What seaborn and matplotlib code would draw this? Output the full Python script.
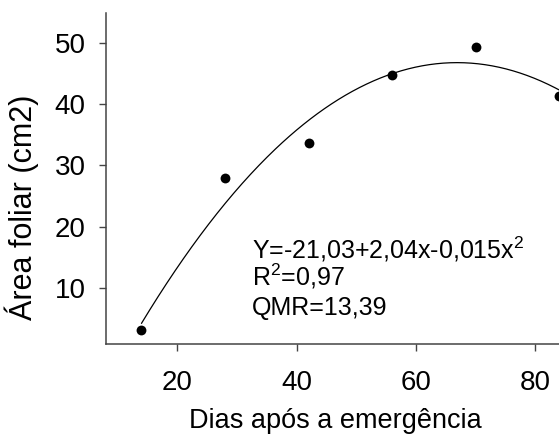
import numpy as np
import pandas as pd
import matplotlib
matplotlib.use("Agg")
import matplotlib.pyplot as plt
import seaborn as sns

# Data
dias = [14, 28, 42, 56, 70, 84]
area = [3.1, 27.9, 33.6, 44.8, 49.4, 41.4]
# fitted quadratic (as drawn): c, b, a
coef = [-21.4, 2.04, -0.01525]
xticks = [20, 40, 60, 80]
yticks = [10, 20, 30, 40, 50]
eq_lines = [r"Y=-21,03+2,04x-0,015x$^2$", r"R$^2$=0,97", "QMR=13,39"]

sns.set_style("ticks")
plt.rcParams['font.family'] = ['Liberation Sans', 'DejaVu Sans']
plt.rcParams['mathtext.fontset'] = 'custom'
plt.rcParams['mathtext.rm'] = 'Liberation Sans'
plt.rcParams['mathtext.it'] = 'Liberation Sans'
plt.rcParams['mathtext.default'] = 'regular'
plt.rcParams['text.color'] = 'black'
plt.rcParams['axes.labelcolor'] = 'black'
plt.rcParams['xtick.labelcolor'] = 'black'
plt.rcParams['ytick.labelcolor'] = 'black'

fig = plt.figure(figsize=(5.59, 4.36), dpi=100)
ax = fig.add_axes([0.189, 0.211, 0.822, 0.760])

df = pd.DataFrame({"dias": dias, "area": area})
xs = np.linspace(min(dias), max(dias), 300)
ys = coef[0] + coef[1] * xs + coef[2] * xs ** 2
sns.lineplot(x=xs, y=ys, ax=ax, color="black", linewidth=0.9)
sns.scatterplot(data=df, x="dias", y="area", ax=ax, color="black", s=50,
                edgecolor="black", linewidth=0, zorder=3, clip_on=False)

ax.set_xlim(8, 85)
ax.set_ylim(0.8, 55)
ax.set_xticks(xticks)
ax.set_yticks(yticks)
ax.tick_params(axis='both', labelsize=20, length=5, width=1, color='#444444',
               labelcolor='black')
ax.tick_params(axis='x', pad=14)
ax.tick_params(axis='y', pad=9.5)
for s in ['top', 'right']:
    ax.spines[s].set_visible(False)
for s in ['left', 'bottom']:
    ax.spines[s].set_color('#444444')
    ax.spines[s].set_linewidth(1.1)

ax.set_xlabel("Dias após a emergência", fontsize=19.5, color='black')
ax.set_ylabel("Área foliar (cm2)", fontsize=22, color='black')
ax.xaxis.set_label_coords(0.5, -(428 - 344) / 331.3)
ax.xaxis.label.set_verticalalignment('baseline')
ax.yaxis.set_label_coords(-(105.7 - 39) / 459.6, 0.414)

for line, yy in zip(eq_lines, [14.8, 10.3, 5.53]):
    ax.text(32.5, yy, line, fontsize=18, va='baseline', ha='left', color='black')

fig.savefig("out.png", dpi=100)
